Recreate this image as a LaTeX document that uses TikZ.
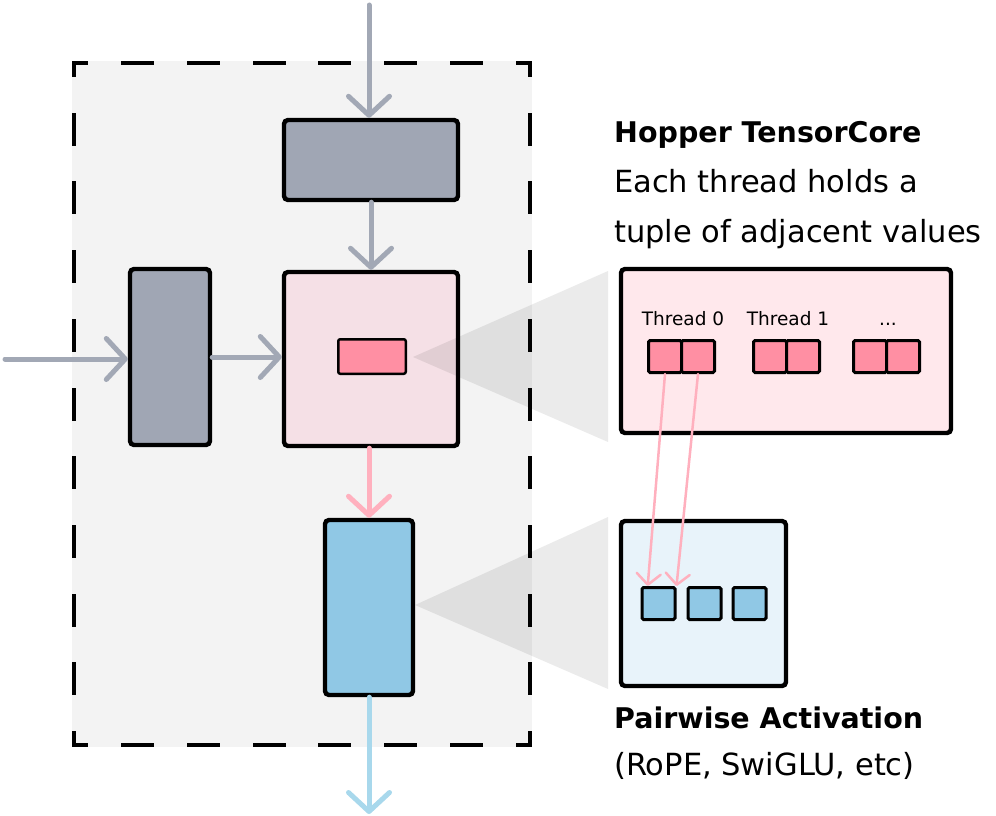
\documentclass[tikz,border=0pt]{standalone}
\usepackage{fontspec}
\setmainfont{DejaVu Sans}
\usetikzlibrary{arrows.meta,calc}
\definecolor{frameBg}{HTML}{F3F3F3}
\definecolor{grayBox}{HTML}{A0A6B4}
\definecolor{grayArr}{HTML}{A2A8B5}
\definecolor{pinkBg}{HTML}{F5E0E6}
\definecolor{pinkCell}{HTML}{FF8FA3}
\definecolor{pinkArr}{HTML}{FFB0BE}
\definecolor{blueBox}{HTML}{90C8E5}
\definecolor{blueArr}{HTML}{A8D8EC}
\definecolor{tcBg}{HTML}{FFE8EC}
\definecolor{paBg}{HTML}{E8F3FA}
\tikzset{
  box/.style={draw=black, line width=4.4pt, rounded corners=4pt, inner sep=0pt},
  cellbox/.style={draw=black, line width=3pt, rounded corners=1.5pt, inner sep=0pt, minimum width=33pt, minimum height=32pt},
  frameline/.style={draw=black, line width=4pt, line cap=rect},
  bigarrow/.style={line width=5pt, line cap=round, -{Straight Barb[length=19pt,width=41pt,line cap=round,line join=round]}},
  garrow/.style={bigarrow, draw=grayArr},
  parrow/.style={bigarrow, draw=pinkArr},
  barrow/.style={bigarrow, draw=blueArr},
  thinarrow/.style={draw=pinkArr, line width=2.5pt, line cap=round, -{Straight Barb[length=11pt,width=24pt,line cap=round,line join=round]}},
  zoomcone/.style={fill=black, opacity=0.08},
  bigreg/.style={anchor=base west, inner sep=0pt, font=\fontsize{30.5}{36}\selectfont},
  bigbold/.style={anchor=base west, inner sep=0pt, font=\fontsize{28.5}{34}\selectfont\bfseries},
  thrlabel/.style={anchor=base, inner sep=0pt, font=\fontsize{18.5}{22}\selectfont}
}
\begin{document}
\begin{tikzpicture}[x=1pt,y=-1pt]
\useasboundingbox (0,0) rectangle (996,816);

% dashed frame
\fill[frameBg] (72,61) rectangle (532,747);
\coordinate (ftl) at (74,63);
\coordinate (ftr) at (530,63);
\coordinate (fbl) at (74,745);
\coordinate (fbr) at (530,745);
\draw[frameline, dash pattern=on 29pt off 36.86pt, dash phase=17pt] (ftl) -- (ftr);
\draw[frameline, dash pattern=on 29pt off 36.86pt, dash phase=17pt] (fbl) -- (fbr);
\draw[frameline, dash pattern=on 29pt off 39.7pt, dash phase=17pt] (ftl) -- (fbl);
\draw[frameline, dash pattern=on 29pt off 39.7pt, dash phase=17pt] (ftr) -- (fbr);

% main boxes
\node[box, fill=grayBox, minimum width=174pt, minimum height=80pt] (topbox) at (371,160) {};
\node[box, fill=grayBox, minimum width=80pt, minimum height=176pt] (leftbox) at (170,357) {};
\node[box, fill=pinkBg, minimum width=174pt, minimum height=174pt] (pinkbox) at (371,359) {};
\node[draw=black, line width=2.5pt, rounded corners=2pt, inner sep=0pt, fill=pinkCell, minimum width=67.5pt, minimum height=34.5pt] (smallpink) at (372,356.5) {};
\node[box, fill=blueBox, minimum width=88pt, minimum height=175pt] (bluebox) at (369,607.5) {};

% arrows
\coordinate (inTop) at (369,5);
\coordinate (inLeft) at (5,359);
\coordinate (outB) at (369,814);
\draw[garrow] (inTop) -- (inTop |- topbox.north);
\draw[garrow] (topbox.south) -- (pinkbox.north);
\draw[garrow] (inLeft) -- (inLeft -| leftbox.west);
\draw[garrow] (leftbox.east) -- (leftbox.east -| pinkbox.west);
\draw[parrow] (bluebox.north |- pinkbox.south) -- (bluebox.north);
\draw[barrow] (bluebox.south) -- (outB);

% zoom cones
\coordinate (apex1) at (413,357);
\coordinate (apex2) at (415,605);
\fill[zoomcone] (apex1) -- (608,271) -- (608,442) -- cycle;
\fill[zoomcone] (apex2) -- (608,517) -- (608,689) -- cycle;

% detail boxes
\node[box, fill=tcBg, minimum width=330pt, minimum height=164pt] (tcbox) at (786,351) {};
\node[box, fill=paBg, minimum width=165pt, minimum height=165pt] (pabox) at (703.5,603.5) {};

\node[thrlabel] (th0) at (683,325) {Thread 0};
\node[thrlabel] (th1) at (788,325) {Thread 1};
\node[thrlabel] (th2) at (888,325) {...};

\node[cellbox, fill=pinkCell] (pa0) at (665,356.5) {};
\node[cellbox, fill=pinkCell] (pb0) at (698,356.5) {};
\node[cellbox, fill=pinkCell] (pa1) at (770,356.5) {};
\node[cellbox, fill=pinkCell] (pb1) at (803,356.5) {};
\node[cellbox, fill=pinkCell] (pa2) at (870,356.5) {};
\node[cellbox, fill=pinkCell] (pb2) at (903,356.5) {};

\node[cellbox, fill=blueBox] (b1) at (658.5,603.5) {};
\node[cellbox, fill=blueBox] (b2) at (704.5,603.5) {};
\node[cellbox, fill=blueBox] (b3) at (749.5,603.5) {};

\draw[thinarrow] (pa0.south) -- ($(b1.north west)!0.2!(b1.north east)$);
\draw[thinarrow] (pb0.south) -- (b1.north east);

% labels
\node[bigbold] (lab1) at (614,142) {Hopper TensorCore};
\node[bigreg] (lab2) at (614,192) {Each thread holds a};
\node[bigreg] (lab3) at (614,242) {tuple of adjacent values};
\node[bigbold] (lab4) at (614,728) {Pairwise Activation};
\node[bigreg] (lab5) at (614,775) {(RoPE, SwiGLU, etc)};
\end{tikzpicture}
\end{document}
